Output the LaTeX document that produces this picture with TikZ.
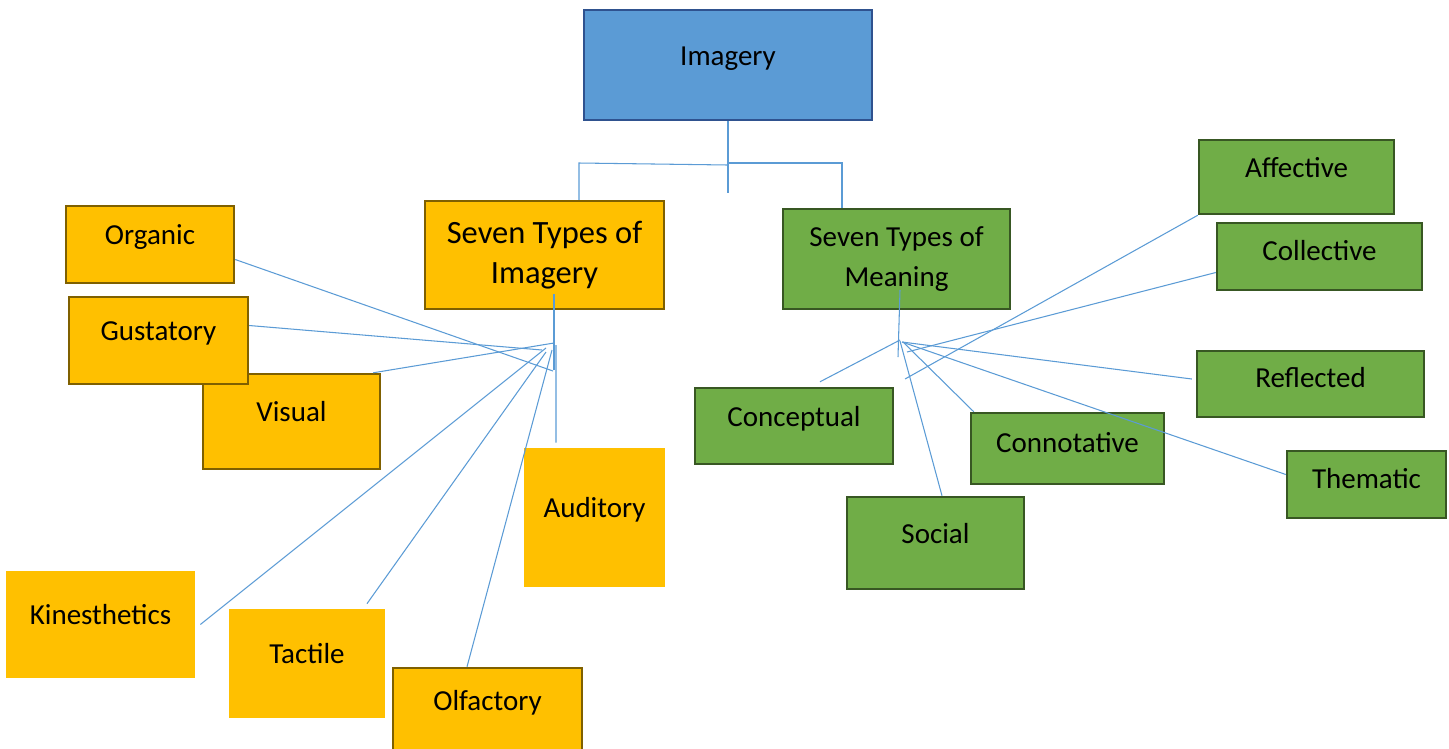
\documentclass[tikz,border=0pt]{standalone}
\usepackage{fontspec}
\setmainfont{Carlito}
\usetikzlibrary{positioning}
\definecolor{imgblue}{RGB}{91,155,213}
\definecolor{imgbluedark}{RGB}{47,82,143}
\definecolor{imgyellow}{RGB}{255,192,0}
\definecolor{imgyellowdark}{RGB}{127,96,0}
\definecolor{imggreen}{RGB}{112,173,71}
\definecolor{imggreendark}{RGB}{56,87,35}

\begin{document}
\begin{tikzpicture}[x=0.02cm, y=-0.02cm,
    every node/.style={font=\fontsize{16.5}{23}\selectfont, inner sep=0pt},
    bbox/.style={draw=imgbluedark, line width=1.4pt, fill=imgblue},
    ybox/.style={draw=imgyellowdark, line width=1.4pt, fill=imgyellow},
    yflat/.style={fill=imgyellow},
    gbox/.style={draw=imggreendark, line width=1.4pt, fill=imggreen},
    lift/.style={text height=0.75em, text depth=0.75em},
    nudge/.style={text height=0.75em, text depth=0.3em},
    link/.style={draw=imgblue, line width=0.6pt}]
    \clip (0,0) rectangle (1449,748);

    % Top
    \node[bbox, lift, minimum width=5.76cm, minimum height=2.2cm] (imagery) at (728,65) {Imagery};

    % Imagery side
    \node[ybox, align=center, font=\fontsize{18.5}{23}\selectfont, minimum width=4.78cm, minimum height=2.16cm] (sti) at (544.5,255) {Seven Types of\\Imagery};
    \node[ybox, lift, minimum width=3.36cm, minimum height=1.54cm] (organic) at (150,244.5) {Organic};
    \node[ybox, lift, minimum width=3.54cm, minimum height=1.9cm] (visual) at (291.5,421.5) {Visual};
    \node[ybox, lift, minimum width=3.58cm, minimum height=1.74cm] (gustatory) at (158.5,340.5) {Gustatory};
    \node[yflat, lift, minimum width=2.82cm, minimum height=2.78cm] (auditory) at (594.5,517.5) {Auditory};
    \node[yflat, lift, minimum width=3.78cm, minimum height=2.14cm] (kinesthetics) at (100.5,624.5) {Kinesthetics};
    \node[yflat, lift, minimum width=3.12cm, minimum height=2.18cm] (tactile) at (307,663.5) {Tactile};
    \node[ybox, lift, minimum width=3.78cm, minimum height=1.68cm] (olfactory) at (487.5,710) {Olfactory};

    % Meaning side
    \node[gbox, align=center, minimum width=4.54cm, minimum height=2cm] (stm) at (896.5,259) {Seven Types of\\Meaning};
    \node[gbox, lift, minimum width=3.9cm, minimum height=1.48cm] (affective) at (1296.5,177) {Affective};
    \node[gbox, nudge, minimum width=4.1cm, minimum height=1.34cm] (collective) at (1319.5,256.5) {Collective};
    \node[gbox, nudge, minimum width=4.54cm, minimum height=1.32cm] (reflected) at (1310.5,384) {Reflected};
    \node[gbox, nudge, minimum width=3.18cm, minimum height=1.34cm] (thematic) at (1366.5,484.5) {Thematic};
    \node[gbox, nudge, minimum width=3.86cm, minimum height=1.42cm] (connotative) at (1067.5,448.5) {Connotative};
    \node[gbox, lift, minimum width=3.96cm, minimum height=1.52cm] (conceptual) at (794,426) {Conceptual};
    \node[gbox, lift, minimum width=3.54cm, minimum height=1.84cm] (social) at (935.5,543) {Social};

    % Tree under Imagery
    \coordinate (split) at (728,193);
    \coordinate (lbend) at (579,163);
    \coordinate (rbend) at (842,163);
    \coordinate (mid) at (728,165);
    \draw[link] (imagery.south) -- (split);
    \draw[link] (sti.north -| lbend) -- (lbend) -- (mid);
    \draw[link] (imagery.south |- rbend) -- (rbend) -- (stm.north -| rbend);

    % Fan of imagery types
    \coordinate (ltop) at (554,294);
    \coordinate (lbot) at (554,370);
    \coordinate (orgend) at (553,371);
    \coordinate (gusend) at (542,350);
    \coordinate (visend) at (554,343);
    \coordinate (kinend) at (546,348);
    \coordinate (tacend) at (546,352);
    \coordinate (olfend) at (552,350);
    \coordinate (audend) at (556,345);
    \draw[link] (ltop) -- (lbot);
    \draw[link] ([yshift=-0.3cm]organic.east) -- (orgend);
    \draw[link] ([yshift=0.3cm]gustatory.east) -- (gusend);
    \draw[link] ([xshift=-0.16cm]visual.north east) -- (visend);
    \draw[link] ([xshift=0.1cm]kinesthetics.east) -- (kinend);
    \draw[link] ([xshift=1.2cm, yshift=0.1cm]tactile.north) -- (tacend);
    \draw[link] ([xshift=-0.41cm]olfactory.north) -- (olfend);
    \draw[link] ([xshift=-0.77cm, yshift=0.1cm]auditory.north) -- (audend);

    % Fan of meaning types
    \coordinate (rtop) at (900,290);
    \coordinate (rbot) at (898,357);
    \coordinate (conend) at (900,340);
    \coordinate (socend) at (900,341);
    \coordinate (cotend) at (903,342);
    \coordinate (colend) at (907,352);
    \coordinate (affend) at (905,379);
    \coordinate (refend) at (902,342);
    \coordinate (theend) at (902,342);
    \draw[link] (rtop) -- (rbot);
    \draw[link] ([xshift=0.52cm, yshift=0.1cm]conceptual.north) -- (conend);
    \draw[link] ([xshift=0.13cm]social.north) -- (socend);
    \draw[link] ([xshift=0.08cm]connotative.north west) -- (cotend);
    \draw[link] ([yshift=-0.32cm]collective.west) -- (colend);
    \draw[link] (affective.south west) -- (affend);
    \draw[link] ([xshift=-0.08cm, yshift=0.1cm]reflected.west) -- (refend);
    \draw[link] ([yshift=0.2cm]thematic.west) -- (theend);
\end{tikzpicture}
\end{document}
